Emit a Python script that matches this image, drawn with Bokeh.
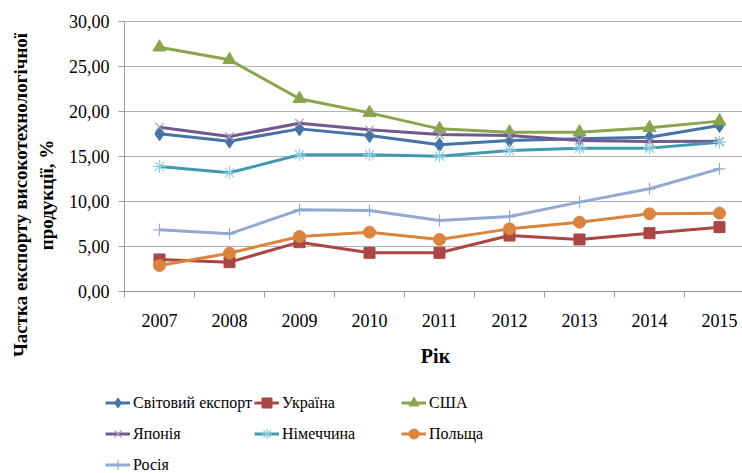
import math
from bokeh.plotting import figure
from bokeh.models import Range1d, FixedTicker, Legend, LegendItem, Label
from bokeh.embed import file_html
from bokeh.resources import INLINE

years = [2007, 2008, 2009, 2010, 2011, 2012, 2013, 2014, 2015]
world = [17.52, 16.70, 18.07, 17.33, 16.30, 16.78, 16.96, 17.15, 18.44]
ukraine = [3.56, 3.26, 5.48, 4.30, 4.30, 6.22, 5.78, 6.48, 7.15]
usa = [27.14, 25.74, 21.41, 19.85, 18.07, 17.70, 17.70, 18.19, 18.93]
japan = [18.26, 17.22, 18.70, 17.96, 17.44, 17.33, 16.78, 16.67, 16.70]
germany = [13.89, 13.19, 15.19, 15.19, 15.04, 15.67, 15.93, 15.93, 16.59]
poland = [2.89, 4.26, 6.11, 6.59, 5.78, 6.96, 7.70, 8.63, 8.70]
russia = [6.85, 6.41, 9.07, 9.00, 7.89, 8.33, 9.93, 11.41, 13.63]

names = ["Світовий експорт", "Україна", "США", "Японія", "Німеччина", "Польща", "Росія"]
y_ticks = [0, 5, 10, 15, 20, 25, 30]
y_tick_labels = ["0,00", "5,00", "10,00", "15,00", "20,00", "25,00", "30,00"]
y_title = "Частка експорту високотехнологічної\nпродукції, %"
x_title = "Рік"

FONT = "Liberation Serif"
W, H = 742, 473

series = [
    (world,   "#4572A7", "diamond",  14, "#4572A7", "#4572A7", 1.0),
    (ukraine, "#AA4643", "square",   11, "#AA4643", "#AA4643", 1.0),
    (usa,     "#89A54E", "triangle", 13, "#89A54E", "#89A54E", 1.0),
    (japan,   "#71588F", "x",        12, None,      "#A99BBD", 1.2),
    (germany, "#4198AF", "asterisk", 13, None,      "#8ECFE3", 1.2),
    (poland,  "#DB843D", "circle",   12, "#DB843D", "#DB843D", 1.0),
    (russia,  "#93A9CF", "cross",    12, None,      "#93A9CF", 1.2),
]

# plot-area geometry (pixels): left edge 124, top 21, bottom 291, 70 px per year
x_lo = years[0] - 0.5
x_start = x_lo - 124 / 70
x_end = x_lo + (W - 124) / 70
px_per_unit = (291 - 21) / 30
y_start = -(H - 291) / px_per_unit
y_end = 30 + 21 / px_per_unit

p = figure(width=W, height=H, output_backend="svg", toolbar_location=None,
           x_range=Range1d(x_start, x_end), y_range=Range1d(y_start, y_end),
           min_border=0)
p.outline_line_color = None
p.background_fill_color = "white"
p.border_fill_color = "white"
p.xgrid.visible = False
p.ygrid.visible = False

# horizontal gridlines across the plot area only
p.segment(x0=[x_lo] * len(y_ticks), x1=[x_end] * len(y_ticks),
          y0=y_ticks, y1=y_ticks, line_color="#B3B3B3", line_width=1)

# y axis
p.yaxis.fixed_location = x_lo
p.yaxis.bounds = (y_ticks[0], y_ticks[-1])
p.yaxis.ticker = FixedTicker(ticks=y_ticks)
p.yaxis.major_label_overrides = {t: l for t, l in zip(y_ticks, y_tick_labels)}
p.yaxis.major_label_text_font = FONT
p.yaxis.major_label_text_font_size = "18px"
p.yaxis.major_label_text_color = "black"
p.yaxis.major_tick_out = 6
p.yaxis.major_tick_in = 0
p.yaxis.minor_tick_line_color = None
p.yaxis.axis_line_color = "#9A9A9A"
p.yaxis.major_tick_line_color = "#9A9A9A"
p.yaxis.major_label_standoff = 9

# x axis
bounds = [y - 0.5 for y in years] + [years[-1] + 0.5]
p.xaxis.fixed_location = 0
p.xaxis.bounds = (x_lo, x_end)
p.xaxis.ticker = FixedTicker(ticks=years, minor_ticks=bounds)
p.xaxis.major_label_overrides = {y: str(y) for y in years}
p.xaxis.major_tick_line_color = None
p.xaxis.minor_tick_line_color = "#9A9A9A"
p.xaxis.minor_tick_out = 6
p.xaxis.minor_tick_in = 0
p.xaxis.axis_line_color = "#9A9A9A"
p.xaxis.major_label_text_font = FONT
p.xaxis.major_label_text_font_size = "18px"
p.xaxis.major_label_text_color = "black"
p.xaxis.major_label_standoff = 16

# axis titles
p.add_layout(Label(x=33, y=H - 194.5, x_units="screen", y_units="screen",
                   text=y_title, angle=math.pi / 2, text_align="center",
                   text_baseline="middle", text_font=FONT,
                   text_font_size="19px", text_font_style="bold",
                   text_color="black", text_line_height=1.2))
p.add_layout(Label(x=435, y=H - 355, x_units="screen", y_units="screen",
                   text=x_title, text_align="center", text_baseline="middle",
                   text_font=FONT, text_font_size="20px",
                   text_font_style="bold", text_color="black"))

LW = 3
items = []
for name, (vals, col, mk, sz, fc, lc, mlw) in zip(names, series):
    lr = p.line(years, vals, line_color=col, line_width=LW)
    mr = p.scatter(years, vals, marker=mk, size=sz, fill_color=fc, line_color=lc, line_width=mlw)
    items.append(LegendItem(label=name, renderers=[lr, mr]))

legend = Legend(items=items, ncols=3, orientation="horizontal", location=(105, -6),
                label_text_font=FONT, label_text_font_size="16px",
                label_text_color="black",
                glyph_width=25, glyph_height=29, label_height=29,
                label_width=117, label_standoff=3, spacing=2,
                padding=0, margin=0, border_line_color=None,
                background_fill_alpha=0)
p.add_layout(legend, "center")

open("out.html", "w").write(file_html(p, INLINE))
